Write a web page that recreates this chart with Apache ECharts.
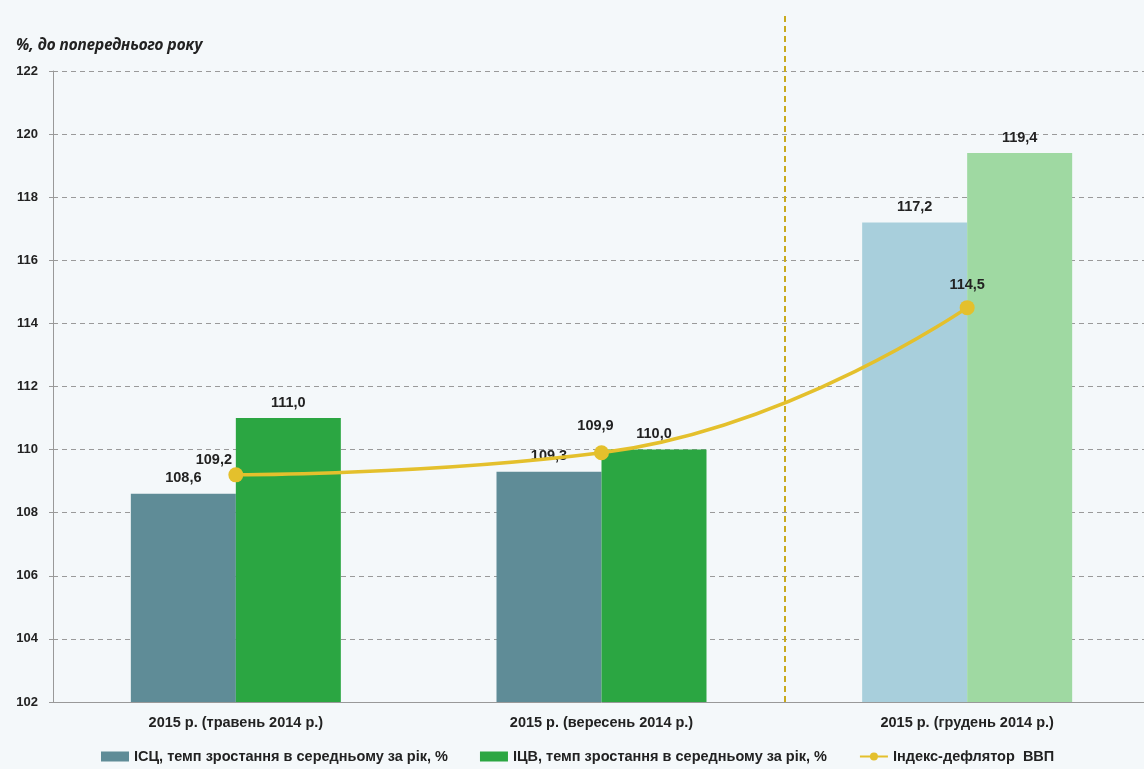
<!DOCTYPE html>
<html>
<head>
<meta charset="utf-8">
<script src="https://cdn.jsdelivr.net/npm/echarts@6/dist/echarts.min.js"></script>
<style>
html,body{margin:0;padding:0;background:#f4f8fa;overflow:hidden;}
#c{width:1152px;height:769px;}
</style>
</head>
<body>
<div id="c"></div>
<script>
const categories = ['2015 р. (травень 2014 р.)', '2015 р. (вересень 2014 р.)', '2015 р. (грудень 2014 р.)'];
const iscValues = [108.6, 109.3, 117.2];
const icvValues = [111.0, 110.0, 119.4];
const deflatorValues = [109.2, 109.9, 114.5];
const seriesNames = ['ІСЦ, темп зростання в середньому за рік, %', 'ІЦВ, темп зростання в середньому за рік, %', 'Індекс-дефлятор  ВВП'];
const yTitle = '%, до попереднього року';
// boundary (in category units) where the forecast section starts
const dividerPosition = [2];

const FONT = '"Liberation Sans", Arial, sans-serif';
const fmt = v => v.toFixed(1).replace('.', ',');

const chart = echarts.init(document.getElementById('c'));

const barData = (vals, dark, light) => vals.map((v, i) => ({
  value: v,
  itemStyle: { color: i === 2 ? light : dark }
}));

const lineLabelOffsets = [[-22, 8], [-6, -4], [0, 0]];
const labelStyle = { fontFamily: FONT, fontWeight: 'bold', fontSize: 14.5, color: '#222' };

chart.setOption({
  backgroundColor: '#f4f8fa',
  animation: false,
  textStyle: { fontFamily: FONT },
  title: {
    text: yTitle,
    left: 11, top: 33,
    textStyle: { fontFamily: '"Noto Sans", "Open Sans", sans-serif', fontStyle: 'italic', fontWeight: 'bold', fontSize: 15.5, color: '#222' }
  },
  legend: {
    bottom: 0, left: 96,
    itemGap: 32,
    itemWidth: 28, itemHeight: 10,
    textStyle: { fontFamily: FONT, fontWeight: 'bold', fontSize: 14.5, color: '#222' },
    data: [
      { name: seriesNames[0], icon: 'rect' },
      { name: seriesNames[1], icon: 'rect' },
      { name: seriesNames[2] }
    ]
  },
  grid: [
    { left: 53, top: 71, bottom: 67, width: 1097, containLabel: false },
    { left: 53, top: 14, bottom: 67, width: 1097, containLabel: false }
  ],
  xAxis: [
    {
      type: 'category', gridIndex: 0, data: categories,
      axisLine: { lineStyle: { color: '#999' } },
      axisTick: { show: false },
      axisLabel: { fontFamily: FONT, fontWeight: 'bold', fontSize: 14.5, color: '#222', margin: 13 },
      splitLine: { show: false }
    },
    {
      type: 'value', gridIndex: 1, min: 0, max: categories.length, show: false,
      splitLine: { show: false }
    }
  ],
  yAxis: [
    {
      type: 'value', gridIndex: 0, min: 102, max: 122, interval: 2,
      axisLine: { show: true, lineStyle: { color: '#999' } },
      axisTick: { show: true, length: 4, lineStyle: { color: '#999' } },
      axisLabel: { fontFamily: FONT, fontWeight: 'bold', fontSize: 13, color: '#222', margin: 15 },
      splitLine: { lineStyle: { color: '#9a9a9a', type: [5, 4], width: 1 } }
    },
    { type: 'value', gridIndex: 1, min: 0, max: 1, show: false, splitLine: { show: false } }
  ],
  series: [
    {
      name: seriesNames[0], type: 'bar', xAxisIndex: 0, yAxisIndex: 0,
      barWidth: 105, barGap: '0%',
      itemStyle: { color: '#5f8c97' },
      data: barData(iscValues, '#5f8c97', '#a8cfdc'),
      label: Object.assign({ show: true, position: 'top', distance: 8, formatter: p => fmt(p.value) }, labelStyle),
      z: 2
    },
    {
      name: seriesNames[1], type: 'bar', xAxisIndex: 0, yAxisIndex: 0,
      barWidth: 105, barGap: '0%',
      itemStyle: { color: '#2ba642' },
      data: barData(icvValues, '#2ba642', '#9fd9a2'),
      label: Object.assign({ show: true, position: 'top', distance: 8, formatter: p => fmt(p.value) }, labelStyle),
      z: 2
    },
    {
      name: seriesNames[2], type: 'line', xAxisIndex: 0, yAxisIndex: 0,
      smooth: true,
      symbol: 'circle', symbolSize: 15,
      itemStyle: { color: '#e4c02c' },
      lineStyle: { color: '#e4c02c', width: 3.5 },
      data: deflatorValues.map((v, i) => ({ value: v, label: { offset: lineLabelOffsets[i] } })),
      label: Object.assign({ show: true, position: 'top', distance: 8, formatter: p => fmt(p.value) }, labelStyle),
      z: 5
    },
    {
      name: 'divider', type: 'scatter', xAxisIndex: 1, yAxisIndex: 1,
      symbolSize: 0, silent: true, data: [],
      markLine: {
        silent: true, symbol: 'none', label: { show: false },
        lineStyle: { color: '#c8aa1e', type: [6, 4], width: 2 },
        data: dividerPosition.map(x => ({ xAxis: x }))
      }
    }
  ]
});
</script>
</body>
</html>
